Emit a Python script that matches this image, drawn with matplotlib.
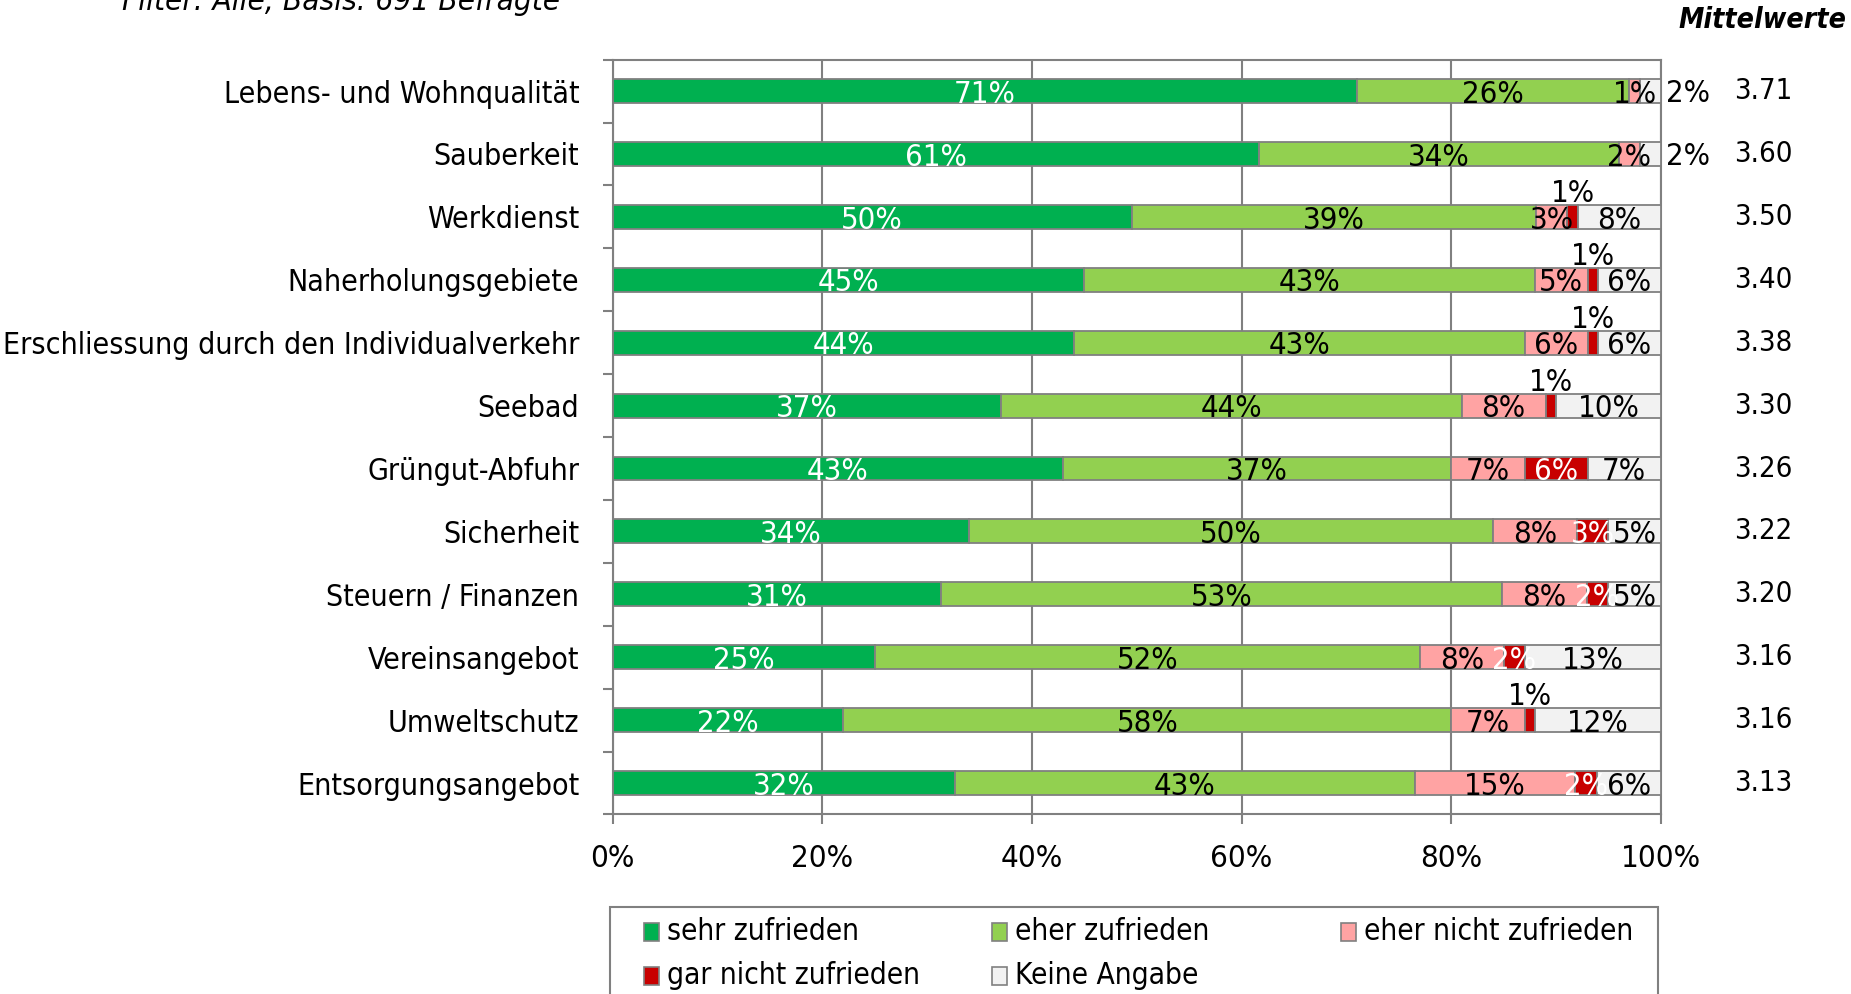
import numpy as np
import matplotlib
matplotlib.use("Agg")
import matplotlib.pyplot as plt
from matplotlib.patches import Rectangle

plt.rcParams["font.family"] = ["DejaVu Sans"]
plt.rcParams["font.stretch"] = "condensed"

categories = [
    "Lebens- und Wohnqualität",
    "Sauberkeit",
    "Werkdienst",
    "Naherholungsgebiete",
    "Erschliessung durch den Individualverkehr",
    "Seebad",
    "Grüngut-Abfuhr",
    "Sicherheit",
    "Steuern / Finanzen",
    "Vereinsangebot",
    "Umweltschutz",
    "Entsorgungsangebot",
]
sehr = [71, 61, 50, 45, 44, 37, 43, 34, 31, 25, 22, 32]
eher = [26, 34, 39, 43, 43, 44, 37, 50, 53, 52, 58, 43]
eher_nicht = [1, 2, 3, 5, 6, 8, 7, 8, 8, 8, 7, 15]
gar_nicht = [0, 0, 1, 1, 1, 1, 6, 3, 2, 2, 1, 2]
keine = [2, 2, 8, 6, 6, 10, 7, 5, 5, 13, 12, 6]
mittelwerte = [3.71, 3.60, 3.50, 3.40, 3.38, 3.30, 3.26, 3.22, 3.20, 3.16, 3.16, 3.13]

series_names = ["sehr zufrieden", "eher zufrieden", "eher nicht zufrieden",
                "gar nicht zufrieden", "Keine Angabe"]
colors = ["#00B050", "#92D050", "#FFA3A3", "#C80000", "#F2F2F2"]
text_colors = ["white", "black", "black", "white", "black"]
edge = "#808080"
W, H = 1851, 994

data = np.array([sehr, eher, eher_nicht, gar_nicht, keine], dtype=float)
counts = data.copy()
shares = data / data.sum(axis=0) * 100  # bars fill 100%

fig = plt.figure(figsize=(W / 100, H / 100), dpi=100)
ax = fig.add_axes([0.331, 0.1806, 0.5663, 0.7594])

y = np.arange(len(categories))
left = np.zeros(len(categories))
for k in range(5):
    ax.barh(y, shares[k], left=left, height=0.38, color=colors[k],
            edgecolor=edge, linewidth=1.3, zorder=3)
    for i in range(len(categories)):
        v = counts[k, i]
        if v == 0:
            left[i] += shares[k, i]
            continue
        cx = left[i] + shares[k, i] / 2
        lab = f"{int(v)}%"
        if k == 3 and v <= 1:
            # tiny red slice: label sits on top of the bar
            ax.text(cx, y[i] - 0.14, lab, ha="center", va="bottom",
                    fontsize=22.3, color="black", zorder=5)
        elif k == 4 and v <= 2:
            ax.text(100.5, y[i] + 0.04, lab, ha="left", va="center",
                    fontsize=22.3, color="black", clip_on=False, zorder=5)
        else:
            ax.text(cx, y[i] + 0.05, lab, ha="center", va="center",
                    fontsize=22.3, color=text_colors[k], zorder=5)
    left += shares[k]

# mean values column
for i, m in enumerate(mittelwerte):
    ax.text(107, y[i], f"{m:.2f}", ha="left", va="center", fontsize=21,
            clip_on=False)

ax.set_xlim(0, 100)
ax.set_ylim(len(categories) - 0.5, -0.5)
ax.set_xticks([0, 20, 40, 60, 80, 100])
ax.set_xticklabels(["0%", "20%", "40%", "60%", "80%", "100%"], fontsize=22.4)
ax.set_yticks(y)
ax.set_yticklabels(categories, fontsize=21.7)
ax.set_yticks(np.arange(-0.5, len(categories)), minor=True)
ax.tick_params(axis="y", which="major", length=0, pad=24)
ax.tick_params(axis="y", which="minor", length=7, width=1.5, color=edge)
ax.tick_params(axis="x", length=7, width=1.5, color=edge, pad=14)
ax.grid(axis="x", color=edge, linewidth=1.5, zorder=0)
ax.set_axisbelow(True)
for s in ax.spines.values():
    s.set_color(edge)
    s.set_linewidth(1.5)

fig.text(122 / W, 1 - 10 / H, "Filter: Alle, Basis: 691 Befragte",
         fontsize=22.6, style="italic", va="baseline", ha="left")
fig.text(0.9973, 0.98, "Mittelwerte", fontsize=20.4, style="italic",
         weight="bold", ha="right", va="center")

# legend box (runs past the bottom edge, as in the original)
fig.patches.append(Rectangle((610 / W, -0.05), 1048 / W, 0.05 + 1 - 907 / H,
                             transform=fig.transFigure, facecolor="white",
                             edgecolor=edge, linewidth=1.5))
col_x = [644, 992, 1341]
row_y = [932, 976]
for n, name in enumerate(series_names):
    cx, cy = col_x[n % 3], row_y[n // 3]
    fig.patches.append(Rectangle((cx / W, 1 - (cy + 9) / H), 15 / W, 18 / H,
                                 transform=fig.transFigure, facecolor=colors[n],
                                 edgecolor=edge, linewidth=1.2))
    fig.text((cx + 23) / W, 1 - cy / H, name, fontsize=21.4,
             ha="left", va="center")

fig.savefig("out.png", dpi=100)
